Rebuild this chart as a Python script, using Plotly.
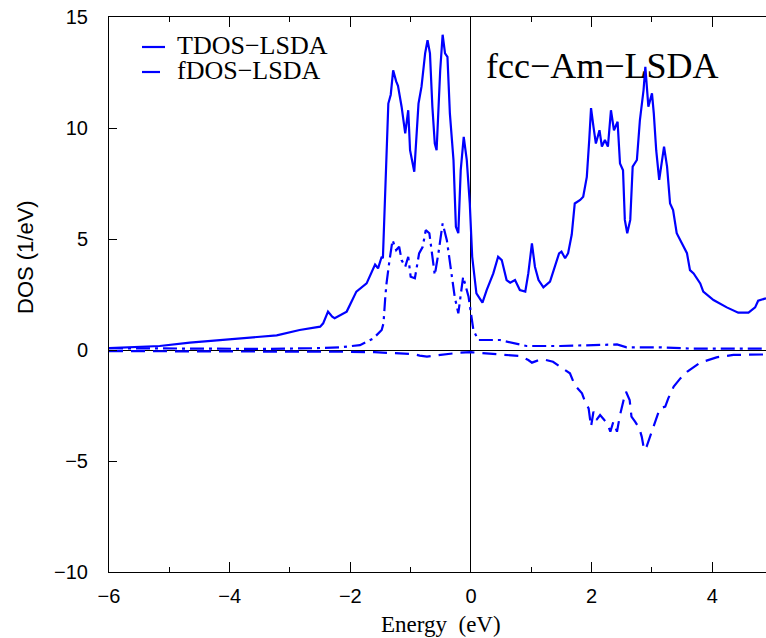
import plotly.graph_objects as go

# ---- data ----
tdos_e = [-6.0, -5.5, -5.16, -4.66, -3.95, -3.22, -2.84, -2.5, -2.45, -2.37, -2.3, -2.26, -2.06, -1.9,
          -1.73, -1.67, -1.59, -1.54, -1.48, -1.46, -1.43, -1.37, -1.33, -1.29, -1.24, -1.21, -1.15,
          -1.09, -1.04, -1.01, -0.94, -0.87, -0.82, -0.76, -0.72, -0.68, -0.64, -0.6, -0.57, -0.51,
          -0.47, -0.43, -0.39, -0.35, -0.29, -0.25, -0.21, -0.17, -0.12, -0.07, -0.02, 0.02, 0.09,
          0.19, 0.26, 0.37, 0.45, 0.51, 0.59, 0.65, 0.73, 0.81, 0.9, 0.95, 1.01, 1.06, 1.12, 1.2,
          1.31, 1.39, 1.46, 1.5, 1.56, 1.61, 1.67, 1.72, 1.81, 1.86, 1.92, 1.96, 1.99, 2.03, 2.07,
          2.13, 2.17, 2.22, 2.27, 2.32, 2.37, 2.43, 2.47, 2.52, 2.55, 2.59, 2.64, 2.68, 2.75, 2.8,
          2.86, 2.89, 2.94, 3.0, 3.03, 3.07, 3.12, 3.2, 3.25, 3.3, 3.35, 3.41, 3.49, 3.58, 3.63,
          3.69, 3.8, 3.85, 4.02, 4.24, 4.43, 4.6, 4.71, 4.76, 4.89]
tdos_v = [0.08, 0.12, 0.18, 0.33, 0.48, 0.66, 0.9, 1.05, 1.2, 1.73, 1.5, 1.43, 1.73, 2.63,
          3.0, 3.38, 3.85, 3.68, 4.2, 4.13, 6.6, 11.1, 11.5, 12.6, 12.1, 11.9, 10.96,
          9.76, 10.8, 9.0, 8.03, 11.1, 11.86, 13.36, 13.96, 13.36, 10.96, 9.3, 9.0, 12.6,
          14.2, 13.36, 13.2, 10.66, 8.56, 5.55, 5.26, 8.1, 9.6, 8.56, 6.6, 4.2, 2.55,
          2.13, 2.7, 3.45, 4.2, 4.05, 3.15, 3.03, 3.15, 2.7, 2.63, 3.45, 4.8, 3.75, 3.15, 2.82,
          3.08, 3.75, 4.35, 4.43, 4.13, 4.36, 5.2, 6.6, 6.76, 6.9, 7.8, 9.46, 10.9, 10.06, 9.3,
          9.9, 9.16, 9.46, 9.16, 10.8, 9.9, 10.28, 8.4, 8.1, 5.86, 5.26, 5.86, 8.26, 8.56, 10.36,
          11.7, 12.76, 10.96, 11.56, 10.66, 9.0, 7.66, 9.16, 8.26, 6.6, 6.3, 5.26, 4.8, 4.36, 3.6,
          3.45, 3.0, 2.63, 2.25, 1.92, 1.68, 1.68, 1.92, 2.22, 2.33]

fup_e = [-6.0, -5.0, -4.0, -3.39, -2.6, -2.17, -1.84, -1.62, -1.48, -1.45, -1.42, -1.4, -1.35, -1.3,
         -1.24, -1.19, -1.15, -1.09, -1.04, -1.0, -0.93, -0.86, -0.8, -0.75, -0.69, -0.64, -0.6,
         -0.54, -0.47, -0.4, -0.35, -0.27, -0.21, -0.13, -0.04, 0.04, 0.12, 0.48, 0.92, 1.48, 2.03,
         2.42, 2.58, 3.13, 3.69, 4.89]
fup_v = [0.08, 0.06, 0.05, 0.05, 0.08, 0.12, 0.22, 0.52, 0.9, 1.2, 2.4, 3.0, 4.05, 4.95,
         4.5, 4.65, 4.05, 3.75, 4.2, 3.3, 3.23, 4.35, 4.65, 5.4, 5.26, 4.2, 3.38,
         4.35, 5.7, 4.95, 4.05, 2.4, 1.65, 3.3, 2.4, 0.9, 0.45, 0.45, 0.18, 0.18, 0.22,
         0.25, 0.12, 0.12, 0.06, 0.06]

fdn_e = [-6.0, -5.0, -4.0, -3.0, -2.0, -1.6, -1.29, -0.96, -0.85, -0.73, -0.6, -0.51, -0.3, -0.18,
         0.0, 0.2, 0.48, 0.81, 0.95, 1.01, 1.1, 1.2, 1.36, 1.53, 1.64, 1.72, 1.84, 1.89, 1.95, 1.99,
         2.03, 2.08, 2.14, 2.21, 2.26, 2.31, 2.36, 2.42, 2.47, 2.53, 2.57, 2.63, 2.66, 2.72, 2.79,
         2.83, 2.87, 2.91, 2.97, 3.03, 3.08, 3.13, 3.22, 3.27, 3.36, 3.47, 3.58, 3.8, 4.07, 4.35, 4.89]
fdn_v = [-0.05, -0.05, -0.05, -0.06, -0.08, -0.1, -0.15, -0.18, -0.25, -0.3, -0.25, -0.22, -0.15, -0.12,
         -0.1, -0.15, -0.22, -0.27, -0.45, -0.57, -0.48, -0.42, -0.53, -0.83, -1.05, -1.58, -1.95, -2.33, -2.63, -3.45,
         -2.78, -3.15, -2.93, -3.15, -3.3, -3.68, -3.23, -3.68, -2.93, -2.25, -1.88, -2.25, -3.0, -3.23, -3.53,
         -3.9, -4.5, -4.36, -3.9, -3.45, -3.0, -2.63, -2.55, -2.18, -1.65, -1.28, -0.98, -0.57, -0.33, -0.22, -0.2]

x_ticks = [-6, -4, -2, 0, 2, 4]
y_ticks = [-10, -5, 0, 5, 10, 15]
legend_labels = ["TDOS\u2212LSDA", "fDOS\u2212LSDA"]
title_text = "fcc\u2212Am\u2212LSDA"

BLUE = "#0000ff"
fig = go.Figure()
fig.add_trace(go.Scatter(x=tdos_e, y=tdos_v, mode="lines", name=legend_labels[0],
                         line=dict(color=BLUE, width=2.2)))
fig.add_trace(go.Scatter(x=fup_e, y=fup_v, mode="lines", name="fDOS up", showlegend=False,
                         line=dict(color=BLUE, width=2.2, dash="14px,5px,3px,5px")))
fig.add_trace(go.Scatter(x=fdn_e, y=fdn_v, mode="lines", name=legend_labels[1],
                         line=dict(color=BLUE, width=2.2, dash="14px,8px")))

# legend drawn by hand for gnuplot-like compact spacing
L = 109; T = 17; PW = 657; PH = 555
def px(xp): return (xp - L) / PW
def py(yp): return (T + PH - yp) / PH

fig.add_shape(type="line", xref="paper", yref="paper", x0=px(142), x1=px(165), y0=py(47), y1=py(47),
              line=dict(color=BLUE, width=2.2))
fig.add_shape(type="line", xref="paper", yref="paper", x0=px(142), x1=px(160), y0=py(72), y1=py(72),
              line=dict(color=BLUE, width=2.2))
for i, lab in enumerate(legend_labels):
    fig.add_annotation(text=lab, xref="paper", yref="paper", x=px(175), y=py(45 + 25 * i),
                       xanchor="left", yanchor="middle", showarrow=False,
                       font=dict(family="Liberation Serif", size=26, color="black"))

fig.add_annotation(text=title_text, xref="paper", yref="paper", x=px(484), y=py(66),
                   xanchor="left", yanchor="middle", showarrow=False,
                   font=dict(family="Liberation Serif", size=36, color="black"))
fig.add_annotation(text="DOS (1/eV)", xref="paper", yref="paper", x=px(25), y=py(257),
                   xanchor="center", yanchor="middle", showarrow=False, textangle=-90,
                   font=dict(family="Liberation Sans", size=22, color="black"))
fig.add_annotation(text="Energy&nbsp;&nbsp;(eV)", xref="paper", yref="paper", x=px(441), y=py(624),
                   xanchor="center", yanchor="middle", showarrow=False,
                   font=dict(family="Liberation Serif", size=23, color="black"))

fig.update_layout(
    width=766, height=638,
    margin=dict(l=L, r=0, t=T, b=638 - T - PH),
    paper_bgcolor="white", plot_bgcolor="white",
    showlegend=False,
    font=dict(family="Liberation Sans", size=20, color="black"),
)
fig.update_xaxes(range=[-6, 4.89], tickvals=x_ticks, ticks="inside", ticklen=10, tickcolor="black",
                 showline=True, linecolor="black", linewidth=1, mirror="ticks",
                 showgrid=False, zeroline=True, zerolinecolor="black", zerolinewidth=1,
                 ticklabelstandoff=6,
                 minor=dict(dtick=1, tick0=-5, ticks="inside", ticklen=5, tickcolor="black", showgrid=False))
fig.update_yaxes(range=[-10, 15], tickvals=y_ticks, ticks="inside", ticklen=8, tickcolor="black",
                 showline=True, linecolor="black", linewidth=1, mirror=False,
                 showgrid=False, zeroline=True, zerolinecolor="black", zerolinewidth=1,
                 ticklabelstandoff=16)

fig.write_html("out.html")
